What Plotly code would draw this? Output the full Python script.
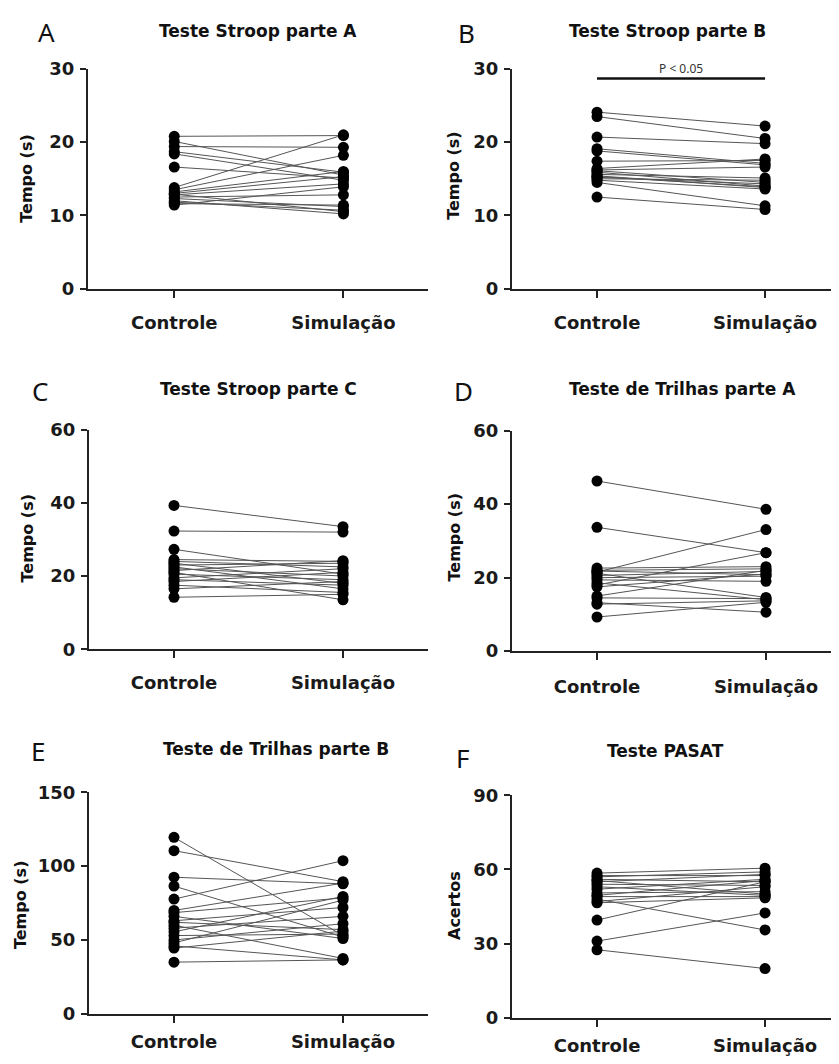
import plotly.graph_objects as go

# ---------------- data ----------------
categories = ["Controle", "Simulação"]

A_controle = [20.8, 20.1, 19.4, 18.7, 16.6, 13.8, 13.5, 13.2, 13.0, 12.8, 12.5, 12.3, 12.0, 11.8, 11.6, 11.4, 12.9, 18.4]
A_simulacao = [20.9, 15.5, 19.3, 15.9, 15.1, 21.0, 18.2, 16.0, 15.3, 14.3, 12.8, 11.2, 10.2, 10.7, 11.4, 13.9, 10.5, 14.8]

B_controle = [24.1, 23.5, 20.7, 19.1, 18.8, 17.4, 16.4, 16.1, 15.9, 15.6, 15.4, 15.2, 15.0, 14.8, 14.5, 12.5, 16.2, 15.3]
B_simulacao = [22.2, 20.5, 19.8, 17.1, 16.9, 17.5, 17.7, 14.5, 14.0, 15.1, 13.8, 14.3, 14.8, 13.6, 11.3, 10.8, 16.6, 13.9]

C_controle = [39.3, 32.3, 27.3, 24.5, 24.0, 23.5, 23.0, 22.5, 22.0, 21.5, 21.0, 20.5, 19.5, 19.0, 18.5, 17.5, 16.5, 14.2]
C_simulacao = [33.5, 32.0, 20.5, 24.0, 22.5, 18.0, 23.5, 16.5, 20.0, 24.2, 13.5, 19.0, 22.0, 17.5, 21.0, 15.5, 18.5, 15.0]

D_controle = [46.3, 33.7, 21.5, 22.6, 22.0, 21.2, 20.6, 20.0, 19.4, 18.6, 17.5, 15.0, 14.5, 13.2, 12.8, 9.3, 21.8, 18.0]
D_simulacao = [38.6, 26.8, 33.1, 23.0, 22.4, 14.6, 21.7, 20.4, 19.0, 14.0, 21.0, 22.0, 14.3, 10.6, 13.7, 13.3, 20.8, 26.8]

E_controle = [119.5, 110.5, 92.5, 86.5, 77.7, 68.5, 66.0, 63.0, 60.0, 58.0, 55.5, 53.0, 50.0, 48.0, 46.0, 44.5, 35.0, 62.0, 70.0]
E_simulacao = [53.0, 89.5, 88.0, 52.0, 103.7, 78.5, 51.0, 72.0, 37.5, 66.0, 79.5, 54.0, 61.0, 77.0, 36.5, 56.0, 36.5, 57.0, 88.5]

F_controle = [58.5, 57.5, 57.0, 56.0, 55.5, 55.0, 54.0, 53.0, 52.0, 50.5, 49.5, 49.0, 48.0, 47.0, 46.5, 39.5, 31.0, 27.5]
F_simulacao = [60.5, 57.5, 59.0, 55.0, 50.0, 58.0, 53.5, 49.5, 56.0, 51.0, 55.5, 49.0, 35.5, 53.0, 48.5, 55.0, 42.4, 19.9]

titles = ["Teste Stroop parte A", "Teste Stroop parte B", "Teste Stroop parte C",
          "Teste de Trilhas parte A", "Teste de Trilhas parte B", "Teste PASAT"]
letters = ["A", "B", "C", "D", "E", "F"]
ytitles = ["Tempo (s)", "Tempo (s)", "Tempo (s)", "Tempo (s)", "Tempo (s)", "Acertos"]
y_ticks = [[0, 10, 20, 30], [0, 10, 20, 30], [0, 20, 40, 60], [0, 20, 40, 60],
           [0, 50, 100, 150], [0, 30, 60, 90]]

sig_y = 28.7
sig_text_y = 30.0
sig_label = "P < 0.05"

panels_data = [(A_controle, A_simulacao), (B_controle, B_simulacao), (C_controle, C_simulacao),
               (D_controle, D_simulacao), (E_controle, E_simulacao), (F_controle, F_simulacao)]

# ---------------- layout geometry (page pixels) ----------------
PAGE_W, PAGE_H = 839, 1064
OFF = 8  # default body margin of the html page
W, H = PAGE_W - OFF, PAGE_H - OFF


def fx(px):
    return (px - OFF) / W


def fy(py):
    return 1 - (py - OFF) / H


# left px, right px, bottom px, top px, xrange, x-label standoff
geom = [
    (88, 428, 283, 59, [-0.51, 1.5], 10),
    (512, 839, 283, 59, [-0.506, 1.44], 10),
    (89, 428, 651, 427, [-0.503, 1.503], 9),
    (512, 839, 653, 428, [-0.503, 1.432], 11),
    (89, 428, 1023, 797, [-0.503, 1.503], 4),
    (512, 839, 1027, 800, [-0.506, 1.44], 4),
]
title_pos = [(258, 20), (667, 20), (258, 385), (682, 385), (276, 753), (665, 755)]
letter_pos = [(46, 21), (466, 22), (40, 388), (463, 388), (38, 755), (463, 762)]
ytitle_pos = [(27, 171), (454, 168), (27, 538), (454, 537), (20, 912), (454, 913)]

FONT = "DejaVu Sans, Arial, sans-serif"
LFONT = "Noto Sans, Open Sans, sans-serif"
AX = "#222222"

fig = go.Figure()
layout = dict(width=W, height=H, margin=dict(l=0, r=0, t=0, b=0),
              paper_bgcolor="white", plot_bgcolor="white", showlegend=False)
annotations = []

for i, ((ctrl, sim), (l, r, b, t, xr, stand)) in enumerate(zip(panels_data, geom)):
    n = i + 1
    xa = "x" if n == 1 else f"x{n}"
    ya = "y" if n == 1 else f"y{n}"
    xs, ys = [], []
    for c, s in zip(ctrl, sim):
        xs += [0, 1, None]
        ys += [c, s, None]
    fig.add_trace(go.Scatter(x=xs, y=ys, mode="lines", xaxis=xa, yaxis=ya,
                             line=dict(color="#555555", width=1), hoverinfo="skip"))
    fig.add_trace(go.Scatter(x=[0] * len(ctrl) + [1] * len(sim), y=list(ctrl) + list(sim),
                             mode="markers", xaxis=xa, yaxis=ya, cliponaxis=False,
                             marker=dict(color="black", size=11, line=dict(width=0))))
    yt = y_ticks[i]
    layout["xaxis" if n == 1 else f"xaxis{n}"] = dict(
        domain=[fx(l), min(1.0, fx(r))], range=xr, anchor=ya, showgrid=False, zeroline=False,
        showline=True, linecolor=AX, linewidth=2, ticks="outside", ticklen=7, tickwidth=2,
        tickcolor=AX, tickvals=[0, 1], ticktext=categories, ticklabelstandoff=stand,
        tickfont=dict(family=FONT, size=18, color="#1a1a1a", weight="bold"), fixedrange=True)
    layout["yaxis" if n == 1 else f"yaxis{n}"] = dict(
        domain=[fy(b), fy(t)], range=[yt[0], yt[-1]], anchor=xa, showgrid=False,
        zeroline=False, showline=True, linecolor=AX, linewidth=2, ticks="outside", ticklen=6,
        tickwidth=2, tickcolor=AX, tickvals=yt, ticklabelstandoff=2,
        tickfont=dict(family=FONT, size=18, color="#1a1a1a", weight="bold"), fixedrange=True)

    tx, ty = title_pos[i]
    annotations.append(dict(text=titles[i], x=fx(tx), y=fy(ty), xref="paper", yref="paper",
                            showarrow=False, xanchor="center", yanchor="middle",
                            font=dict(family=FONT, size=17, color="#111111", weight="bold")))
    lx, ly = letter_pos[i]
    annotations.append(dict(text=letters[i], x=fx(lx), y=fy(ly), xref="paper", yref="paper",
                            showarrow=False, xanchor="center", yanchor="middle",
                            font=dict(family=LFONT, size=26, color="#111111")))
    yx, yy = ytitle_pos[i]
    annotations.append(dict(text=ytitles[i], x=fx(yx), y=fy(yy), xref="paper", yref="paper",
                            showarrow=False, xanchor="center", yanchor="middle", textangle=-90,
                            font=dict(family=FONT, size=16, color="#111111", weight="bold")))

# significance bar for panel B
fig.add_trace(go.Scatter(x=[0, 1], y=[sig_y, sig_y], mode="lines", xaxis="x2", yaxis="y2",
                         line=dict(color="#111111", width=2.5), hoverinfo="skip", cliponaxis=False))
annotations.append(dict(text=sig_label, x=0.5, y=sig_text_y, xref="x2", yref="y2", showarrow=False,
                        xanchor="center", yanchor="middle",
                        font=dict(family=LFONT, size=12, color="#333333")))

layout["annotations"] = annotations
fig.update_layout(**layout)
fig.write_html("out.html")
